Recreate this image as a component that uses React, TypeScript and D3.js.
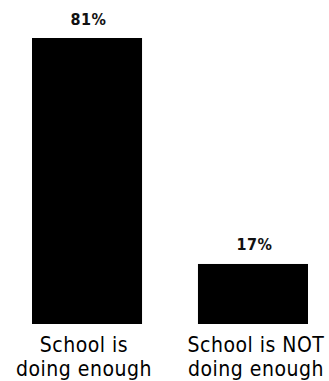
import React from "react";
import * as d3 from "d3";

const categories = ["School is|doing enough", "School is NOT|doing enough"];
const values = [81, 17];
const valueLabels = ["81%", "17%"];

const W = 329;
const H = 381;

export default function App() {
  const x = d3.scaleBand<string>().domain(categories).range([32, 308]).paddingInner(0.337).paddingOuter(0);
  const y = d3.scaleLinear().domain([0, 81]).range([324, 38]);

  return (
    <svg width={W} height={H} style={{ position: "absolute", left: 0, top: 0, background: "#fff" }}>
      {categories.map((c, i) => {
        const bx = x(c)!;
        const bw = x.bandwidth();
        const cx = bx + bw / 2;
        const lx = cx + (i === 0 ? -3 : 3);
        const lines = c.split("|");
        return (
          <g key={c}>
            <rect x={bx} y={y(values[i])} width={bw} height={y(0) - y(values[i])} fill="#000" />
            <text
              x={cx + 1.5}
              y={y(values[i]) - 13.5}
              textAnchor="middle"
              fontFamily="DejaVu Sans Condensed"
              fontWeight="bold"
              fontSize={16}
              letterSpacing={0.5}
              fill="#111"
            >
              {valueLabels[i]}
            </text>
            <text
              textAnchor="middle"
              fontFamily="DejaVu Sans Condensed"
              fontSize={21}
              letterSpacing={0.5}
              fill="#000"
            >
              {lines.map((l, j) => (
                <tspan key={j} x={lx} y={351.5 + j * 24.5}>
                  {l}
                </tspan>
              ))}
            </text>
          </g>
        );
      })}
    </svg>
  );
}
